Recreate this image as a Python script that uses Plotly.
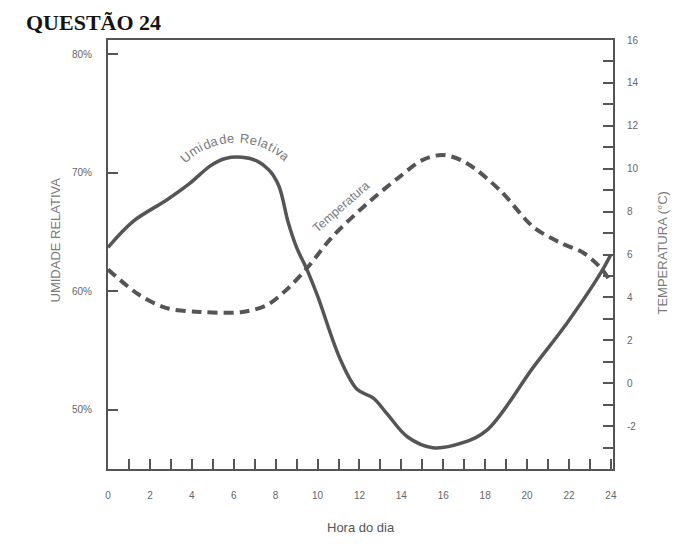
import math
import plotly.graph_objects as go

# ---- data ----
hours_h = [0, 1.2, 2.8, 3.9, 4.9, 5.6, 6.4, 7.1, 7.7, 8.15, 8.6, 9.0, 9.5, 10.0, 11.1, 11.9, 12.65, 13.3, 14.3, 15.5, 16.9, 18.1, 20.3, 21.9, 23.5, 24]
humidity = [63.7, 65.9, 67.7, 69.1, 70.6, 71.2, 71.3, 71.0, 70.2, 68.9, 65.8, 63.7, 61.8, 59.6, 54.2, 51.7, 51.0, 49.7, 47.7, 46.8, 47.2, 48.3, 53.6, 57.3, 61.5, 63.1]

hours_t = [0, 1.5, 2.8, 4.4, 6.4, 7.6, 8.5, 9.5, 10.7, 12.4, 13.9, 15.0, 16.0, 17.1, 18.7, 20.3, 21.6, 22.7, 23.6, 24]
temperature = [5.3, 4.11, 3.5, 3.32, 3.32, 3.65, 4.34, 5.37, 6.82, 8.4, 9.61, 10.4, 10.64, 10.27, 9.0, 7.28, 6.54, 6.07, 5.28, 4.67]

x_ticks = list(range(0, 25, 2))
hum_ticks = [50, 60, 70, 80]
hum_labels = [f"{v}%" for v in hum_ticks]
temp_ticks = list(range(-2, 17, 2))
temp_labels = [str(v) for v in temp_ticks]

title_text = "QUESTÃO 24"
hum_label = "Umidade Relativa"
temp_label = "Temperatura"

# ---- layout geometry (page has an 8px body margin) ----
OFF = 8
W, H = 681, 547
L, R, T, B = 100, 76, 32, 86
PW, PH = W - L - R, H - T - B

def px_to_paper(px, py):
    fx, fy = px - OFF, py - OFF
    return (fx - L) / PW, (H - B - fy) / PH

line_col = "#555555"
text_col = "#7a7a7a"
font_fam = "Liberation Sans, Arial, sans-serif"

fig = go.Figure()
fig.add_trace(go.Scatter(x=hours_h, y=humidity, mode="lines", yaxis="y",
                         line=dict(color=line_col, width=3.5, shape="spline", smoothing=1.0),
                         showlegend=False, hoverinfo="skip"))
fig.add_trace(go.Scatter(x=hours_t, y=temperature, mode="lines", yaxis="y2",
                         line=dict(color=line_col, width=4, shape="spline", smoothing=0.9, dash="10px,6px"),
                         showlegend=False, hoverinfo="skip"))

annotations = []
# chart title
tx, ty = px_to_paper(24, 8)
annotations.append(dict(text=f"<b>{title_text}</b>", x=tx, y=ty, xref="paper", yref="paper",
                        xanchor="left", yanchor="top", showarrow=False,
                        font=dict(family="Liberation Serif, Times New Roman, serif", size=22, color="#141414")))
# axis titles
ax_x, ax_y = px_to_paper(45, 240)
annotations.append(dict(text="UMIDADE RELATIVA", x=ax_x, y=ax_y, xref="paper", yref="paper",
                        textangle=-90, showarrow=False, font=dict(family=font_fam, size=13, color=text_col)))
ax_x, ax_y = px_to_paper(672, 253)
annotations.append(dict(text="TEMPERATURA (°C)", x=ax_x, y=ax_y, xref="paper", yref="paper",
                        textangle=-90, showarrow=False, font=dict(family=font_fam, size=13, color=text_col)))
ax_x, ax_y = px_to_paper(361, 537)
annotations.append(dict(text="Hora do dia", x=ax_x, y=ax_y, xref="paper", yref="paper",
                        showarrow=False, font=dict(family=font_fam, size=13, color="#555")))

# curved "Umidade Relativa" label along an arc
widths = {"U": .722, "m": .833, "i": .222, "d": .556, "a": .556, "e": .556, " ": .278,
          "R": .722, "l": .222, "t": .278, "v": .5}
fs = 13
spacing = 1.0
cx, cy, rad = 236, 214, 76
ws = [widths.get(c, .55) * fs + spacing for c in hum_label]
total = sum(ws)
theta0 = math.radians(-1) - (total / 2) / rad
s = 0
for ch, w in zip(hum_label, ws):
    th = theta0 + (s + w / 2) / rad
    s += w
    if ch == " ":
        continue
    px = cx + rad * math.sin(th)
    py = cy - rad * math.cos(th)
    xp, yp = px_to_paper(px, py)
    annotations.append(dict(text=ch, x=xp, y=yp, xref="paper", yref="paper", showarrow=False,
                            textangle=math.degrees(th), xanchor="center", yanchor="middle",
                            font=dict(family=font_fam, size=fs, color=text_col)))

# rotated "Temperatura" label
tx, ty = px_to_paper(341, 207)
annotations.append(dict(text=temp_label, x=tx, y=ty, xref="paper", yref="paper", showarrow=False,
                        textangle=-41, font=dict(family=font_fam, size=12.5, color=text_col)))

tick_font = dict(size=10, color="#666")
fig.update_layout(
    width=W, height=H,
    margin=dict(l=L, r=R, t=T, b=B),
    paper_bgcolor="white", plot_bgcolor="white",
    font=dict(family=font_fam, color="#666"),
    xaxis=dict(range=[0, 24.1], tickvals=x_ticks, ticks="inside", ticklen=10, tickwidth=1.5,
               tickcolor=line_col, showline=True, linecolor=line_col, linewidth=2, mirror=True,
               showgrid=False, zeroline=False, ticklabelstandoff=16, tickfont=tick_font,
               minor=dict(dtick=1, ticks="inside", ticklen=10, tickwidth=1.5, tickcolor=line_col, showgrid=False)),
    yaxis=dict(range=[45, 81.2], tickvals=hum_ticks, ticktext=hum_labels, ticks="inside", ticklen=10,
               tickwidth=1.5, tickcolor=line_col, showline=True, linecolor=line_col, linewidth=2,
               showgrid=False, zeroline=False, ticklabelstandoff=12, tickfont=tick_font),
    yaxis2=dict(range=[-4, 16], overlaying="y", side="right", tickvals=temp_ticks, ticktext=temp_labels,
                ticks="inside", ticklen=10, tickwidth=1.5, tickcolor=line_col, showline=True,
                linecolor=line_col, linewidth=2, showgrid=False, zeroline=False, ticklabelstandoff=10,
                tickfont=tick_font,
                minor=dict(dtick=1, ticks="inside", ticklen=10, tickwidth=1.5, tickcolor=line_col, showgrid=False)),
    annotations=annotations,
)

fig.write_html("out.html")
